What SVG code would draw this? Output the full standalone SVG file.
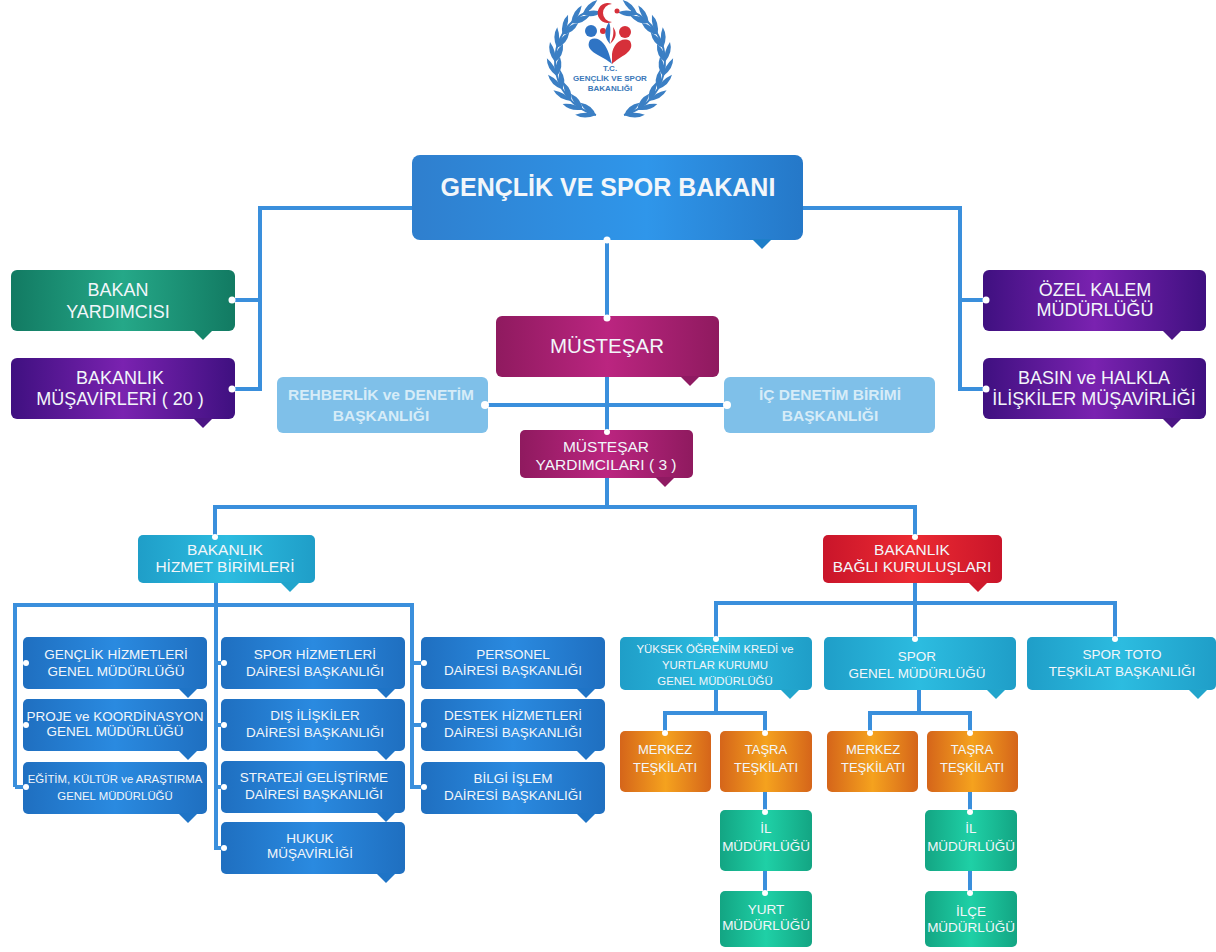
<svg xmlns="http://www.w3.org/2000/svg" width="1216" height="952" viewBox="0 0 1216 952">
<style>
text{font-family:"Liberation Sans",Arial,sans-serif;fill:#f2f6fa;text-anchor:middle}
.l{font-size:18px}.m{font-size:15.5px}.s{font-size:13.5px}.o{font-size:13px}.xs{font-size:11.4px}
.b{font-weight:bold}
.lb{fill:#d6ecf8;font-size:15.5px;font-weight:bold}
.link{fill:none;stroke:#3a8fdc;stroke-width:4}
.dot{fill:#fff}
.blue{fill:url(#gBlue)}.top{fill:url(#gTop)}.green{fill:url(#gGreen)}.purple{fill:url(#gPurple)}.mag{fill:url(#gMag)}
.sky{fill:#7fc0e9}.cyan{fill:url(#gCyan)}.red{fill:url(#gRed)}.org{fill:url(#gOrg)}.teal{fill:url(#gTeal)}
.tb{fill:#1f74c6}.tc{fill:#22a5cc}.tg{fill:#15856a}.tp{fill:#4c1585}.tm{fill:#8f1a62}.tr{fill:#cf1a2c}.tt{fill:#1f7fc9}
.leaf{fill:#3b7fc4}
.lg{font-weight:bold;fill:#3a78b8;font-size:8px}
</style>
<defs>
<linearGradient id="gBlue"><stop offset="0" stop-color="#1f6fc0"/><stop offset=".5" stop-color="#2a8ae0"/><stop offset="1" stop-color="#1f6fc0"/></linearGradient>
<linearGradient id="gTop"><stop offset="0" stop-color="#2f7fce"/><stop offset=".6" stop-color="#2f96ea"/><stop offset="1" stop-color="#2578c8"/></linearGradient>
<linearGradient id="gGreen"><stop offset="0" stop-color="#127a62"/><stop offset=".5" stop-color="#25a888"/><stop offset="1" stop-color="#127a62"/></linearGradient>
<linearGradient id="gPurple"><stop offset="0" stop-color="#3f1080"/><stop offset=".5" stop-color="#7a22b0"/><stop offset="1" stop-color="#3f1080"/></linearGradient>
<linearGradient id="gMag"><stop offset="0" stop-color="#8f1a5f"/><stop offset=".5" stop-color="#bb2580"/><stop offset="1" stop-color="#8f1a5f"/></linearGradient>
<linearGradient id="gCyan"><stop offset="0" stop-color="#1f9ec8"/><stop offset=".5" stop-color="#2cbce0"/><stop offset="1" stop-color="#1f9ec8"/></linearGradient>
<linearGradient id="gRed"><stop offset="0" stop-color="#c9152a"/><stop offset=".5" stop-color="#ec2a32"/><stop offset="1" stop-color="#c9152a"/></linearGradient>
<linearGradient id="gOrg"><stop offset="0" stop-color="#d5651a"/><stop offset=".5" stop-color="#f5a21e"/><stop offset="1" stop-color="#d5651a"/></linearGradient>
<linearGradient id="gTeal"><stop offset="0" stop-color="#13a583"/><stop offset=".5" stop-color="#1fd0a6"/><stop offset="1" stop-color="#13a583"/></linearGradient>
<polygon id="tab" points="-10,-1 10,-1 0,9"/>
<path id="sp" class="leaf" d="M610,7 Q620,-1 630,2 Q620,9 610,7ZM610,7 Q621,6 628,15 Q616,16 610,7Z"/>
<g id="half">
<path d="M589,11 A55,55 0 0 0 596,115" fill="none" stroke="#3b7fc4" stroke-width="2"/>
<use href="#sp" transform="rotate(-30 610 62)"/><use href="#sp" transform="rotate(-45 610 62)"/><use href="#sp" transform="rotate(-60 610 62)"/><use href="#sp" transform="rotate(-75 610 62)"/><use href="#sp" transform="rotate(-90 610 62)"/><use href="#sp" transform="rotate(-105 610 62)"/><use href="#sp" transform="rotate(-120 610 62)"/><use href="#sp" transform="rotate(-135 610 62)"/><use href="#sp" transform="rotate(-150 610 62)"/><use href="#sp" transform="rotate(-165 610 62)"/>
</g>
</defs>

<g id="logo">
<use href="#half"/><use href="#half" transform="translate(1220 0) scale(-1 1)"/>
<path d="M612,4 A10,10 0 1 0 612,22 A8,8 0 1 1 612,4Z" fill="#d6303a"/>
<circle cx="617" cy="11" r="2.5" fill="#d6303a"/>
<circle cx="591" cy="31" r="6" fill="#2f74c4"/><circle cx="625" cy="32" r="6" fill="#d6303a"/><circle cx="603" cy="31" r="3" fill="#d6303a"/>
<path d="M612,64 C604,56 583,52 590,40 C598,35 606,44 609,54Z" fill="#2f74c4"/>
<path d="M612,64 C620,56 636,52 630,41 C622,36 613,44 612,54Z" fill="#d6303a"/>
<path d="M609,22 C603,32 605,38 610,44 C609,36 612,30 609,22Z" fill="#2f74c4"/>
<path d="M610,44 C617,38 617,32 613,27 C614,34 613,38 610,44Z" fill="#d6303a"/>
<text class="lg" x="610" y="71">T.C.</text>
<text class="lg" x="610" y="81">GENÇLİK VE SPOR</text>
<text class="lg" x="610" y="91">BAKANLIĞI</text>
</g>

<g id="connectors">
<path class="link" d="M412,208H260V389H235M260,300H235"/>
<path class="link" d="M803,208H960V389H983M960,300H983"/>
<path class="link" d="M607,240V316M607,377V430M488,405H724M607,478V507"/>
<path class="link" d="M215,535V507H915V535"/>
<path class="link" d="M216,583V848H221M15,787V605H412V787H421M15,787H23M412,663H421M412,725H421M216,663H221M216,725H221M216,787H221"/>
<path class="link" d="M915,583V637M716,637V603H1115V637"/>
<path class="link" d="M716,690V713M665,731V713H765V731M919,690V713M870,731V713H970V731"/>
<path class="link" d="M765,791V810M765,870V891M970,791V810M970,870V891"/>
</g>

<g id="n-bakan"><rect class="top" x="412" y="155" width="391" height="85" rx="8"/><use class="tt" href="#tab" x="762" y="240"/><circle class="dot" cx="607" cy="240" r="3.5"/><text class="b" style="font-size:25px" x="608" y="196">GENÇLİK VE SPOR BAKANI</text></g>

<g id="n-yardimci"><rect class="green" x="11" y="270" width="224" height="61" rx="6"/><use class="tg" href="#tab" x="203" y="331"/><circle class="dot" cx="232" cy="300" r="3.5"/><text class="l" x="118" y="296">BAKAN</text><text class="l" x="118" y="318">YARDIMCISI</text></g>
<g id="n-musavir"><rect class="purple" x="11" y="358" width="224" height="61" rx="6"/><use class="tp" href="#tab" x="203" y="419"/><circle class="dot" cx="232" cy="389" r="3.5"/><text class="l" x="120" y="384">BAKANLIK</text><text class="l" x="120" y="405">MÜŞAVİRLERİ ( 20 )</text></g>
<g id="n-kalem"><rect class="purple" x="983" y="270" width="223" height="61" rx="6"/><use class="tp" href="#tab" x="1172" y="331"/><circle class="dot" cx="986" cy="300" r="3.5"/><text class="l" x="1095" y="296">ÖZEL KALEM</text><text class="l" x="1095" y="316">MÜDÜRLÜĞÜ</text></g>
<g id="n-basin"><rect class="purple" x="983" y="358" width="223" height="61" rx="6"/><use class="tp" href="#tab" x="1172" y="419"/><circle class="dot" cx="986" cy="389" r="3.5"/><text class="l" x="1094" y="384">BASIN ve HALKLA</text><text class="l" x="1094" y="405">İLİŞKİLER MÜŞAVİRLİĞİ</text></g>

<g id="n-mustesar"><rect class="mag" x="496" y="316" width="223" height="61" rx="6"/><use class="tm" href="#tab" x="690" y="377"/><circle class="dot" cx="607" cy="318" r="3.5"/><text style="font-size:20.5px" x="607" y="353">MÜSTEŞAR</text></g>
<g id="n-rehberlik"><rect class="sky" x="277" y="377" width="211" height="56" rx="6"/><circle class="dot" cx="485" cy="405" r="4"/><text class="lb" x="381" y="400">REHBERLİK ve DENETİM</text><text class="lb" x="381" y="421">BAŞKANLIĞI</text></g>
<g id="n-icdenetim"><rect class="sky" x="724" y="377" width="211" height="56" rx="6"/><circle class="dot" cx="727" cy="405" r="4"/><text class="lb" x="830" y="400">İÇ DENETİM BİRİMİ</text><text class="lb" x="830" y="421">BAŞKANLIĞI</text></g>
<g id="n-myard"><rect class="mag" x="520" y="430" width="173" height="48" rx="5"/><use class="tm" href="#tab" x="665" y="478"/><circle class="dot" cx="607" cy="432" r="3"/><text class="m" x="606" y="452">MÜSTEŞAR</text><text class="m" x="606" y="470">YARDIMCILARI ( 3 )</text></g>

<g id="n-hizmet"><rect class="cyan" x="138" y="535" width="177" height="48" rx="5"/><use class="tc" href="#tab" x="290" y="583"/><circle class="dot" cx="215" cy="537" r="3"/><text class="m" x="225" y="555">BAKANLIK</text><text class="m" x="225" y="572">HİZMET BİRİMLERİ</text></g>
<g id="n-bagli"><rect class="red" x="823" y="535" width="179" height="48" rx="5"/><use class="tr" href="#tab" x="978" y="583"/><circle class="dot" cx="915" cy="537" r="3"/><text class="m" x="912" y="555">BAKANLIK</text><text class="m" x="912" y="572">BAĞLI KURULUŞLARI</text></g>

<g id="n-genclik"><rect class="blue" x="23" y="637" width="184" height="52" rx="5"/><use class="tb" href="#tab" x="188" y="689"/><circle class="dot" cx="26" cy="663" r="3"/><text class="s" x="116" y="659">GENÇLİK HİZMETLERİ</text><text class="s" x="116" y="676">GENEL MÜDÜRLÜĞÜ</text></g>
<g id="n-proje"><rect class="blue" x="23" y="699" width="184" height="52" rx="5"/><use class="tb" href="#tab" x="188" y="751"/><circle class="dot" cx="26" cy="725" r="3"/><text class="s" x="115" y="721">PROJE ve KOORDİNASYON</text><text class="s" x="115" y="736">GENEL MÜDÜRLÜĞÜ</text></g>
<g id="n-egitim"><rect class="blue" x="23" y="762" width="184" height="52" rx="5"/><use class="tb" href="#tab" x="188" y="814"/><circle class="dot" cx="26" cy="787" r="3"/><text class="xs" x="115" y="783">EĞİTİM, KÜLTÜR ve ARAŞTIRMA</text><text class="xs" x="115" y="800">GENEL MÜDÜRLÜĞÜ</text></g>

<g id="n-spor"><rect class="blue" x="221" y="637" width="184" height="52" rx="5"/><use class="tb" href="#tab" x="386" y="689"/><circle class="dot" cx="224" cy="663" r="3"/><text class="s" x="315" y="659">SPOR HİZMETLERİ</text><text class="s" x="315" y="676">DAİRESİ BAŞKANLIĞI</text></g>
<g id="n-dis"><rect class="blue" x="221" y="699" width="184" height="52" rx="5"/><use class="tb" href="#tab" x="386" y="751"/><circle class="dot" cx="224" cy="725" r="3"/><text class="s" x="315" y="720">DIŞ İLİŞKİLER</text><text class="s" x="315" y="737">DAİRESİ BAŞKANLIĞI</text></g>
<g id="n-strateji"><rect class="blue" x="221" y="761" width="184" height="52" rx="5"/><use class="tb" href="#tab" x="386" y="813"/><circle class="dot" cx="224" cy="787" r="3"/><text class="s" x="314" y="782">STRATEJİ GELİŞTİRME</text><text class="s" x="314" y="799">DAİRESİ BAŞKANLIĞI</text></g>
<g id="n-hukuk"><rect class="blue" x="221" y="822" width="184" height="52" rx="5"/><use class="tb" href="#tab" x="386" y="874"/><circle class="dot" cx="224" cy="848" r="3"/><text class="s" x="310" y="843">HUKUK</text><text class="s" x="310" y="858">MÜŞAVİRLİĞİ</text></g>

<g id="n-personel"><rect class="blue" x="421" y="637" width="184" height="52" rx="5"/><use class="tb" href="#tab" x="586" y="689"/><circle class="dot" cx="424" cy="663" r="3"/><text class="s" x="513" y="659">PERSONEL</text><text class="s" x="513" y="675">DAİRESİ BAŞKANLIĞI</text></g>
<g id="n-destek"><rect class="blue" x="421" y="699" width="184" height="52" rx="5"/><use class="tb" href="#tab" x="586" y="751"/><circle class="dot" cx="424" cy="725" r="3"/><text class="s" x="513" y="720">DESTEK HİZMETLERİ</text><text class="s" x="513" y="737">DAİRESİ BAŞKANLIĞI</text></g>
<g id="n-bilgi"><rect class="blue" x="421" y="762" width="184" height="52" rx="5"/><use class="tb" href="#tab" x="586" y="814"/><circle class="dot" cx="424" cy="787" r="3"/><text class="s" x="513" y="783">BİLGİ İŞLEM</text><text class="s" x="513" y="800">DAİRESİ BAŞKANLIĞI</text></g>

<g id="n-ykk"><rect class="cyan" x="620" y="637" width="192" height="53" rx="5"/><use class="tc" href="#tab" x="790" y="690"/><circle class="dot" cx="716" cy="639" r="3"/><text class="xs" x="715" y="653">YÜKSEK ÖĞRENİM KREDİ ve</text><text class="xs" x="715" y="669">YURTLAR KURUMU</text><text class="xs" x="715" y="685">GENEL MÜDÜRLÜĞÜ</text></g>
<g id="n-sgm"><rect class="cyan" x="824" y="637" width="192" height="53" rx="5"/><use class="tc" href="#tab" x="996" y="690"/><circle class="dot" cx="915" cy="639" r="3"/><text class="s" x="917" y="661">SPOR</text><text class="s" x="917" y="678">GENEL MÜDÜRLÜĞÜ</text></g>
<g id="n-toto"><rect class="cyan" x="1027" y="637" width="189" height="53" rx="5"/><use class="tc" href="#tab" x="1198" y="690"/><circle class="dot" cx="1115" cy="639" r="3"/><text class="s" x="1122" y="659">SPOR TOTO</text><text class="s" x="1122" y="676">TEŞKİLAT BAŞKANLIĞI</text></g>

<g id="n-m1"><rect class="org" x="620" y="731" width="91" height="61" rx="5"/><circle class="dot" cx="665" cy="733" r="3"/><text class="o" x="665" y="754">MERKEZ</text><text class="o" x="665" y="772">TEŞKİLATI</text></g>
<g id="n-t1"><rect class="org" x="720" y="731" width="92" height="61" rx="5"/><circle class="dot" cx="765" cy="733" r="3"/><text class="o" x="766" y="754">TAŞRA</text><text class="o" x="766" y="772">TEŞKİLATI</text></g>
<g id="n-m2"><rect class="org" x="827" y="731" width="91" height="61" rx="5"/><circle class="dot" cx="870" cy="733" r="3"/><text class="o" x="873" y="754">MERKEZ</text><text class="o" x="873" y="772">TEŞKİLATI</text></g>
<g id="n-t2"><rect class="org" x="927" y="731" width="91" height="61" rx="5"/><circle class="dot" cx="970" cy="733" r="3"/><text class="o" x="972" y="754">TAŞRA</text><text class="o" x="972" y="772">TEŞKİLATI</text></g>

<g id="n-il1"><rect class="teal" x="720" y="810" width="92" height="61" rx="5"/><circle class="dot" cx="765" cy="812" r="3"/><text class="s" x="766" y="833">İL</text><text class="s" x="766" y="851">MÜDÜRLÜĞÜ</text></g>
<g id="n-yurt"><rect class="teal" x="720" y="891" width="92" height="56" rx="5"/><circle class="dot" cx="765" cy="893" r="3"/><text class="s" x="766" y="914">YURT</text><text class="s" x="766" y="930">MÜDÜRLÜĞÜ</text></g>
<g id="n-il2"><rect class="teal" x="925" y="810" width="92" height="61" rx="5"/><circle class="dot" cx="970" cy="812" r="3"/><text class="s" x="971" y="833">İL</text><text class="s" x="971" y="851">MÜDÜRLÜĞÜ</text></g>
<g id="n-ilce"><rect class="teal" x="925" y="891" width="92" height="56" rx="5"/><circle class="dot" cx="970" cy="893" r="3"/><text class="s" x="971" y="916">İLÇE</text><text class="s" x="971" y="932">MÜDÜRLÜĞÜ</text></g>
</svg>
